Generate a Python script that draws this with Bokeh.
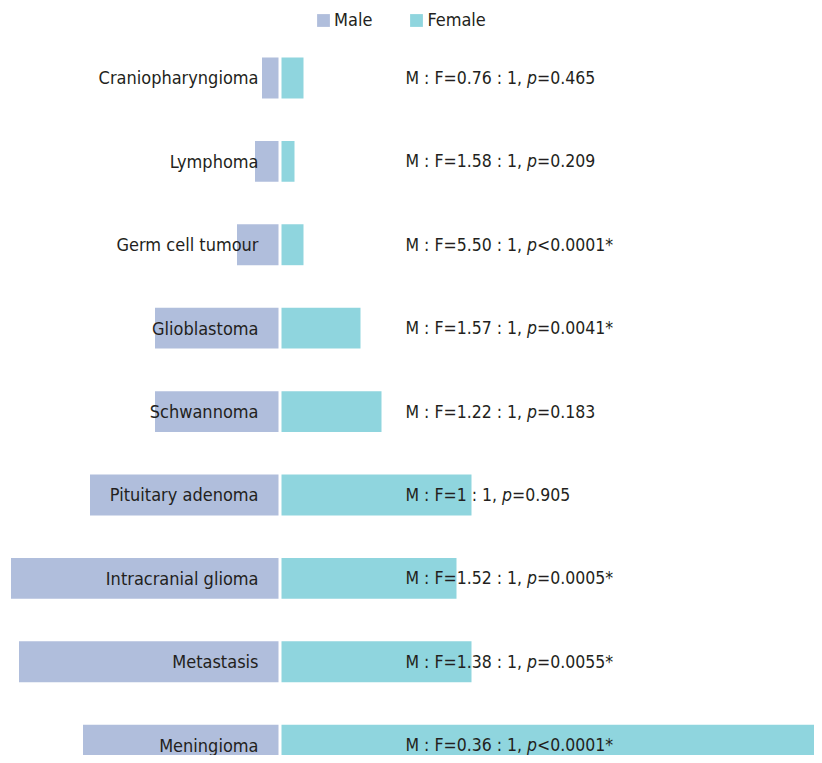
from bokeh.plotting import figure
from bokeh.models import ColumnDataSource, Range1d, Legend, LegendItem
from bokeh.core.properties import value
from bokeh.embed import file_html
from bokeh.resources import INLINE

categories = ["Craniopharyngioma", "Lymphoma", "Germ cell tumour", "Glioblastoma",
              "Schwannoma", "Pituitary adenoma", "Intracranial glioma", "Metastasis",
              "Meningioma"]
male = [18, 25, 43, 125, 125, 190, 269, 261, 197]
female = [22, 13, 22, 79, 100, 190, 175, 190, 547]
ratios = ["0.76", "1.58", "5.50", "1.57", "1.22", "1", "1.52", "1.38", "0.36"]
pvals = ["=0.465", "=0.209", "<0.0001*", "=0.0041*", "=0.183", "=0.905",
         "=0.0005*", "=0.0055*", "<0.0001*"]

MALE_C = "#B0BEDC"
FEMALE_C = "#8FD5DE"
TEXT_C = "#231F20"
FONT = "DejaVu Sans Condensed"
FS = 17.5
FS_LAB = 18

# approximate glyph widths (DejaVu Sans metrics x condensed factor)
W = {" ": 318, "M": 863, ":": 337, "F": 575, "=": 838, ".": 318, ",": 318,
     "p": 635, "<": 838, "*": 500}
def text_w(s):
    return sum(W.get(c, 636) for c in s) / 1000 * 0.9 * FS

gap = 1.5
y = list(range(len(categories)))
prefix = [f"M : F={r} : 1, " for r in ratios]
src = ColumnDataSource(dict(
    y=y, cat=categories,
    mleft=[-m for m in male], mright=[-gap] * len(male),
    fleft=[gap] * len(female), fright=[gap + f for f in female],
    prefix=prefix, pp=["p"] * len(y), rest=pvals,
    poff=[text_w(s) for s in prefix],
    roff=[text_w(s) + text_w("p") for s in prefix],
))

p = figure(width=814, height=755, output_backend="svg", toolbar_location=None,
           x_range=Range1d(-279.5, 534.5), y_range=Range1d(8.124, -0.929),
           min_border=0, min_border_left=0, min_border_right=0,
           min_border_top=0, min_border_bottom=0)
p.axis.visible = False
p.grid.visible = False
p.outline_line_color = None
p.background_fill_color = "white"

bh = 0.49
rm = p.hbar(y="y", left="mleft", right="mright", height=bh, source=src,
            fill_color=MALE_C, line_color=None)
rf = p.hbar(y="y", left="fleft", right="fright", height=bh, source=src,
            fill_color=FEMALE_C, line_color=None)

tkw = dict(source=src, text_baseline="middle", text_font=value(FONT),
           text_color=TEXT_C)
p.text(x=-21.5, y="y", text="cat", text_align="right",
       text_font_size=f"{FS_LAB}px", **tkw)

ax = 125.5
p.text(x=ax, y="y", text="prefix", text_align="left",
       text_font_size=f"{FS}px", **tkw)
p.text(x=ax, y="y", text="pp", x_offset="poff", text_align="left",
       text_font_style="italic", text_font_size=f"{FS}px", **tkw)
p.text(x=ax, y="y", text="rest", x_offset="roff", text_align="left",
       text_font_size=f"{FS}px", **tkw)

legend = Legend(items=[LegendItem(label="Male", renderers=[rm]),
                       LegendItem(label="Female", renderers=[rf])],
                orientation="horizontal", location=(315, 725),
                glyph_width=16, glyph_height=16, label_standoff=3, spacing=36,
                padding=0, margin=0, border_line_color=None,
                background_fill_alpha=0,
                label_text_font=FONT, label_text_font_size=f"{FS_LAB}px",
                label_text_color=TEXT_C, label_height=16)
p.add_layout(legend, "center")

open("out.html", "w").write(file_html(p, INLINE))
